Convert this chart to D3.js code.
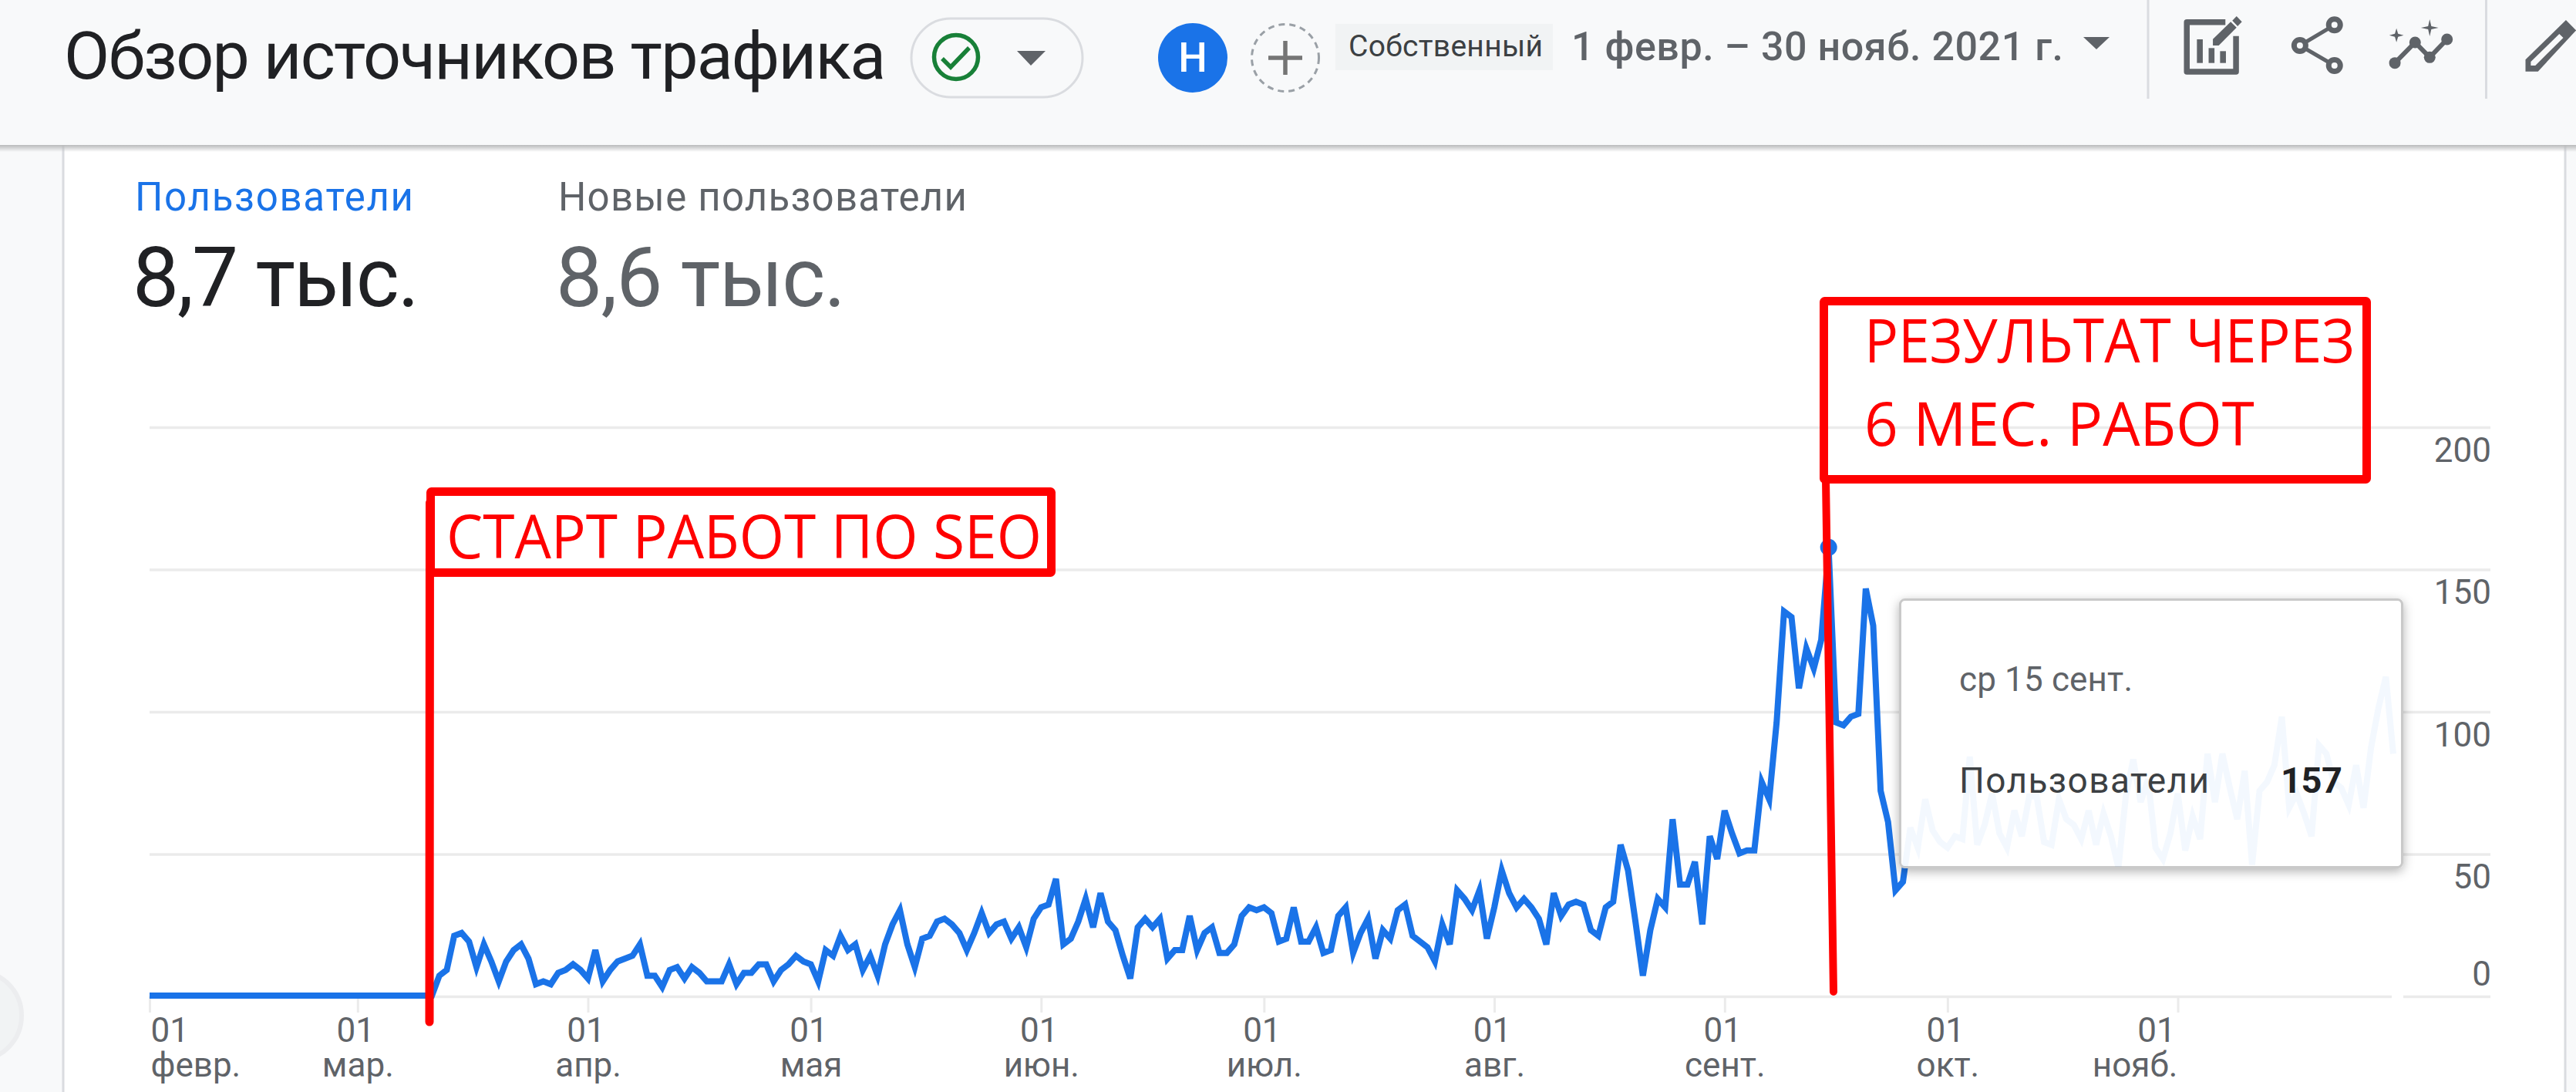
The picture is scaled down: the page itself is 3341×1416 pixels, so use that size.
<!DOCTYPE html>
<html lang="ru">
<meta charset="utf-8">
<style>
    html, body { margin: 0; padding: 0; background: #f8f9fa; overflow: hidden; }
    svg { display: block; }
    text { font-family: Roboto, sans-serif; }
    .domain { display: none; }
</style>
<body>
<svg id="chart" width="3341" height="1416"></svg>
<script src="https://cdnjs.cloudflare.com/ajax/libs/d3/7.8.5/d3.min.js"></script>
<script>
// users per day, one array per month
var usersFeb = [0,0,0,0,0,0,0,0,0,0,0,0,0,0,0,0,0,0,0,0,0,0,0,0,0,0,0,0];
var usersMar = [0,0,0,0,0,0,0,0,0,0,0,7,9,21,22,19,10,18,12,5,12,16,18,13,4,5,4,8,9,11,9];
var usersApr = [6,16,5,9,12,13,14,18,7,7,3,9,10,6,10,8,5,5,5,11,4,8,8,11,11,5,9,11,14,12];
var usersMay = [11,5,16,14,21,16,18,9,14,7,18,25,30,18,10,20,21,26,27,25,22,16,22,29,22,25,26,20,24,17,27];
var usersJun = [31,32,41,18,20,26,34,24,36,26,23,14,6,24,27,24,27,13,16,16,28,16,22,24,15,15,18,28,31,30];
var usersJul = [31,29,19,20,31,19,19,24,15,16,28,31,15,22,27,13,23,20,30,32,21,19,17,12,25,18,37,34,30,37,20];
var usersAug = [31,44,36,31,34,31,27,18,36,28,32,33,32,23,21,31,33,53,44,26,7,23,34,31,62,39,39,47,25,56,48];
var usersSep = [65,57,50,51,51,75,69,96,135,133,108,122,115,125,157,96,95,98,99,143,130,72,61,37,40,59,52,69,58,54];
var usersOct = [52,56,55,84,53,60,71,57,52,65,56,70,70,54,53,69,62,60,55,65,53,64,56,45,70,83,68,76,52,48,57];
var usersNov = [71,51,63,55,85,68,85,73,62,79,46,72,75,81,98,66,71,64,56,88,85,75,73,67,81,66,87,101,112,85];
var users = [].concat(usersFeb, usersMar, usersApr, usersMay, usersJun, usersJul, usersAug, usersSep, usersOct, usersNov);

var tickDates = ["2021-02-01","2021-03-01","2021-04-01","2021-05-01","2021-06-01","2021-07-01","2021-08-01","2021-09-01","2021-10-01","2021-11-01"];
var tickDays = ["01","01","01","01","01","01","01","01","01","01"];
var tickMonths = ["февр.","мар.","апр.","мая","июн.","июл.","авг.","сент.","окт.","нояб."];
var yTicks = [0,50,100,150,200];
var peakDate = "2021-09-15";
var peakValue = 157;

var svg = d3.select("#chart");
var grey = "#5f6368";
var blue = "#1a73e8";
var parseDay = d3.utcParse("%Y-%m-%d");
var startDay = parseDay("2021-02-01");
var days = users.map(function (d, i) { return d3.utcDay.offset(startDay, i); });

var x = d3.scaleUtc().domain([startDay, parseDay("2021-11-30")]).range([194, 3104]);
var y = d3.scaleLinear().domain([0, 200]).range([1292, 554]);

// text helper, w is the width the string takes in the picture
function label(g, str, px, py, size, color, w, weight, squeeze) {
    var t = g.append("text").attr("x", px).attr("y", py).attr("font-size", size).attr("fill", color).text(str);
    if (w) t.attr("textLength", w).attr("lengthAdjust", squeeze ? "spacingAndGlyphs" : "spacing");
    if (weight) t.attr("font-weight", weight);
    return t;
}

var defs = svg.append("defs");
var shadow = defs.append("filter").attr("id", "tipShadow").attr("x", "-10%").attr("y", "-10%").attr("width", "120%").attr("height", "125%");
shadow.append("feDropShadow").attr("dx", 0).attr("dy", 4).attr("stdDeviation", 7).attr("flood-color", "#000").attr("flood-opacity", 0.3);
var headGrad = defs.append("linearGradient").attr("id", "headShadow").attr("x1", 0).attr("x2", 0).attr("y1", 0).attr("y2", 1);
headGrad.append("stop").attr("offset", 0).attr("stop-color", "#b9babb");
headGrad.append("stop").attr("offset", 1).attr("stop-color", "#b9babb").attr("stop-opacity", 0);
defs.append("clipPath").attr("id", "tipClip").append("rect").attr("x", 2465).attr("y", 778).attr("width", 650).attr("height", 346);

// page and card
svg.append("rect").attr("width", 3341).attr("height", 1416).attr("fill", "#f8f9fa");
svg.append("rect").attr("x", 82).attr("y", 170).attr("width", 3245).attr("height", 1260).attr("fill", "#fff").attr("stroke", "#dadce0").attr("stroke-width", 3);
svg.append("circle").attr("cx", -30).attr("cy", 1317).attr("r", 58).attr("fill", "#f1f3f4").attr("stroke", "#ecedef").attr("stroke-width", 6);

// header
var head = svg.append("g");
head.append("rect").attr("y", 188).attr("width", 3341).attr("height", 9).attr("fill", "url(#headShadow)");
head.append("rect").attr("width", 3341).attr("height", 188).attr("fill", "#f8f9fa");
label(head, "Обзор источников трафика", 83, 102, 86, "#202124", 1066);

head.append("rect").attr("x", 1182).attr("y", 24).attr("width", 222).attr("height", 102).attr("rx", 51).attr("fill", "none").attr("stroke", "#dadce0").attr("stroke-width", 3);
head.append("circle").attr("cx", 1240).attr("cy", 74).attr("r", 28.5).attr("fill", "none").attr("stroke", "#188038").attr("stroke-width", 5.5);
head.append("path").attr("d", "M1222,76L1233,87L1257,62").attr("fill", "none").attr("stroke", "#188038").attr("stroke-width", 5.5);
head.append("path").attr("d", "M1319,66H1356L1337,85Z").attr("fill", grey);

head.append("circle").attr("cx", 1547).attr("cy", 75).attr("r", 45).attr("fill", blue);
label(head, "Н", 1547, 93, 53, "#fff", 0, 500).attr("text-anchor", "middle");
head.append("circle").attr("cx", 1667).attr("cy", 75).attr("r", 43.5).attr("fill", "none").attr("stroke", "#9aa0a6").attr("stroke-width", 3).attr("stroke-dasharray", "8 6");
head.append("path").attr("d", "M1645,75H1689M1667,53V97").attr("stroke", "#757575").attr("stroke-width", 5.5);

head.append("rect").attr("x", 1732).attr("y", 31).attr("width", 282).attr("height", 60).attr("fill", "#f1f3f4");
label(head, "Собственный", 1749, 73, 39, "#3c4043", 252);
label(head, "1 февр. – 30 нояб. 2021 г.", 2038, 78, 52, grey, 638, 500);
head.append("path").attr("d", "M2702,48H2736L2719,64Z").attr("fill", grey);
head.append("path").attr("d", "M2786,0V128M3224.5,0V128").attr("stroke", "#dadce0").attr("stroke-width", 3);

// toolbar icons, drawn in the coordinates of a 2.9x/3x crop of the header
var ix = function (v) { return 2800 + v / 2.898; };
var iy = function (v) { return v / 3; };
function iconPath(pts, close) {
    return pts.map(function (p, i) { return (i ? "L" : "M") + ix(p[0]) + "," + iy(p[1]); }).join("") + (close ? "Z" : "");
}
var icons = head.append("g").attr("fill", grey);
icons.append("path").attr("d", iconPath([[250,86],[116,86],[105,86],[105,279],[290,279],[290,140]])).attr("fill", "none").attr("stroke", grey).attr("stroke-width", 7.5).attr("stroke-linejoin", "round");
[[143,153],[187,187],[230,199]].forEach(function (b) {
    icons.append("rect").attr("x", ix(b[0])).attr("y", iy(b[1])).attr("width", 22 / 2.898).attr("height", (245 - b[1]) / 3);
});
icons.append("path").attr("d", iconPath([[203,152],[270,85],[292,107],[225,177],[203,177]], true));
icons.append("path").attr("d", iconPath([[276,80],[292,63],[312,85],[296,102]], true));

icons.append("path").attr("d", iconPath([[660,97],[530,177],[660,255]])).attr("fill", "none").attr("stroke", grey).attr("stroke-width", 5);
[[660,97],[530,177],[660,255]].forEach(function (p) {
    icons.append("circle").attr("cx", ix(p[0])).attr("cy", iy(p[1])).attr("r", 7.5).attr("fill", "#f8f9fa").attr("stroke", grey).attr("stroke-width", 7);
});

var spark = [[887,245],[963,165],[1018,223],[1083,153]];
icons.append("path").attr("d", iconPath(spark)).attr("fill", "none").attr("stroke", grey).attr("stroke-width", 6);
spark.forEach(function (p) {
    icons.append("circle").attr("cx", ix(p[0])).attr("cy", iy(p[1])).attr("r", 7.5);
});
[[1018,108,33],[893,137,27]].forEach(function (s) {
    var c = s[0], m = s[1], r = s[2], k = 6;
    icons.append("path").attr("d", iconPath([[c,m-r],[c+k,m-k],[c+r,m],[c+k,m+k],[c,m+r],[c-k,m+k],[c-r,m],[c-k,m-k]], true));
});
icons.append("path").attr("d", iconPath([[1378,278],[1378,232],[1530,78],[1568,118],[1425,278]], true));
icons.append("path").attr("d", iconPath([[1398,240],[1505,132],[1520,147],[1415,255],[1398,255]], true)).attr("fill", "#f8f9fa");

// metric tabs
label(svg, "Пользователи", 175, 273, 51, blue, 361);
label(svg, "Новые пользователи", 724, 273, 51, grey, 530);
label(svg, "8,7 тыс.", 172, 397, 107, "#202124", 372);
label(svg, "8,6 тыс.", 721, 397, 107, grey, 376);

// y grid
var grid = svg.append("g").attr("transform", "translate(3230,0)")
    .call(d3.axisLeft(y).tickValues(yTicks).tickSize(3036).tickFormat(""));
grid.selectAll("line").attr("stroke", "#ebebeb").attr("stroke-width", 3.5);

// y labels sit under their grid line, the zero sits above it
var yLabels = svg.append("g").attr("transform", "translate(3231,0)")
    .call(d3.axisRight(y).tickValues(yTicks).tickSize(0).tickPadding(0));
yLabels.selectAll("line").remove();
yLabels.selectAll("text")
    .attr("text-anchor", "end")
    .attr("dy", function (d) { return d === 0 ? -15 : 44; })
    .attr("font-size", 44)
    .attr("font-family", "Roboto, sans-serif")
    .attr("fill", grey);

// x axis, month ticks with two line labels
// first label starts at its tick, last one is pushed left of it like in the report
var xAxis = svg.append("g").attr("transform", "translate(0,1292)")
    .call(d3.axisBottom(x).tickValues(tickDates.map(parseDay)).tickSize(21).tickFormat(""));
xAxis.selectAll("line").attr("stroke", "#ebebeb").attr("stroke-width", 3);
xAxis.selectAll("text").each(function (d, i) {
    var first = i === 0, last = i === tickDates.length - 1;
    var t = d3.select(this)
        .attr("text-anchor", first ? "start" : "middle")
        .attr("font-size", 44)
        .attr("font-family", "Roboto, sans-serif")
        .attr("fill", grey)
        .attr("y", 0).attr("dy", null);
    t.append("tspan").attr("x", first ? 1 : last ? -28 : -3).attr("y", 59).text(tickDays[i]);
    t.append("tspan").attr("x", first ? 1 : last ? -56 : 0).attr("y", 104).text(tickMonths[i]);
});

// series
var line = d3.line().x(function (d, i) { return x(days[i]); }).y(function (d) { return y(d) - 1; });
svg.append("path").datum(users).attr("d", line).attr("fill", "none").attr("stroke", blue).attr("stroke-width", 8);
svg.append("circle").attr("cx", x(parseDay(peakDate))).attr("cy", y(peakValue) - 3).attr("r", 11).attr("fill", blue);

// tooltip, the line shows faintly through it
var tip = svg.append("g");
tip.append("rect").attr("x", 3102).attr("y", 1286).attr("width", 15).attr("height", 10).attr("fill", "#fff");
tip.append("rect").attr("x", 2464.5).attr("y", 777.5).attr("width", 651).attr("height", 347).attr("rx", 6)
    .attr("fill", "#fff").attr("stroke", "#c9c9c9").attr("stroke-width", 3).attr("filter", "url(#tipShadow)");
tip.append("path").datum(users).attr("d", line).attr("fill", "none").attr("stroke", blue).attr("stroke-width", 8)
    .attr("stroke-opacity", 0.05).attr("clip-path", "url(#tipClip)");
label(tip, "ср 15 сент.", 2541, 896, 44, grey, 225);
label(tip, "Пользователи", 2541, 1028, 46, "#3c4043", 324);
label(tip, "157", 2958, 1028, 47, "#202124", 80, 700);

// red marks put over the screenshot
var red = svg.append("g");
function box(bx0, by0, bx1, by1) {
    red.append("rect").attr("x", bx0 + 5.5).attr("y", by0 + 5.5).attr("width", bx1 - bx0 - 11).attr("height", by1 - by0 - 11)
        .attr("rx", 1).attr("fill", "none").attr("stroke", "#f00").attr("stroke-width", 11).attr("stroke-linejoin", "round");
}
red.append("line").attr("x1", 557.5).attr("y1", 652).attr("x2", 557).attr("y2", 1325)
    .attr("stroke", "#f00").attr("stroke-width", 11).attr("stroke-linecap", "round");
red.append("line").attr("x1", 2368).attr("y1", 622).attr("x2", 2378).attr("y2", 1286)
    .attr("stroke", "#f00").attr("stroke-width", 10).attr("stroke-linecap", "round");
box(553, 632, 1369, 748);
box(2360, 385, 3075, 627);
function redText(str, px, py, w) {
    label(red, str, px, py, 78, "#f00", w, 0, true).style("font-family", "'Open Sans', sans-serif");
}
redText("СТАРТ РАБОТ ПО SEO", 579, 724, 772);
redText("РЕЗУЛЬТАТ ЧЕРЕЗ", 2418, 470, 636);
redText("6 МЕС. РАБОТ", 2418, 578, 506);
</script>
</body>
</html>
